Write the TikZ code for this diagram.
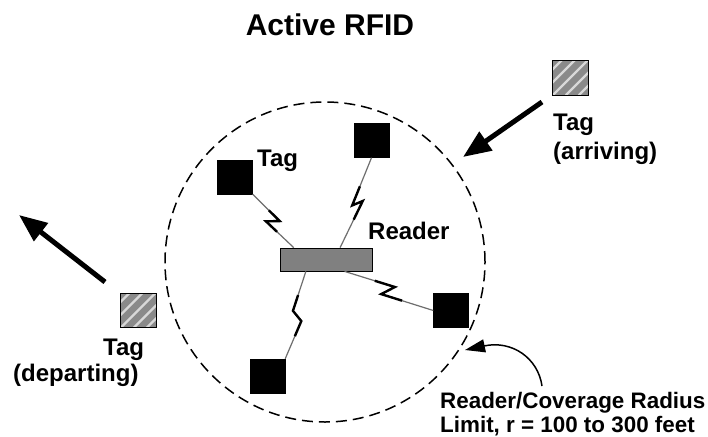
\documentclass[tikz,border=0pt]{standalone}
\usepackage{fontspec}
\setmainfont{Liberation Sans}
\usetikzlibrary{calc,arrows.meta}
\definecolor{readergray}{HTML}{808080}
\definecolor{wiregray}{HTML}{6E6E6E}
\definecolor{hatchgray}{HTML}{8A8A8A}
\definecolor{stripegray}{HTML}{D8D8D8}
\newcommand\rfidbolt[8]{%
  \coordinate (bA) at (#1);
  \coordinate (bB) at (#2);
  \coordinate (bP) at ($(bA)!#3!(bB)!#5!#4:(bB)$);
  \coordinate (bQ) at ($(bA)!#6!(bB)!#8!#7:(bB)$);
  \draw[wire] (bA) -- (bP) -- (bQ) -- (bB);
  \draw[jag] ($(bA)!0.6!(bP)$) -- (bP) -- (bQ) -- ($(bQ)!0.4!(bB)$);
}
\newcommand\rfidhatch[1]{%
  \begin{scope}
    \clip (#1.south west) rectangle (#1.north east);
    \foreach \k in {-39,-26,-13,0,13,26,39} {
      \draw[stripegray,line width=2.4pt] ($(#1.south west)+(\k,0)$) -- ++(45,-45);
    }
  \end{scope}
  \draw[black,line width=0.8pt] (#1.south west) rectangle (#1.north east);
}
\begin{document}
\begin{tikzpicture}[x=1pt,y=-1pt,
  tagbox/.style={draw=black,fill=black,minimum width=35pt,minimum height=34pt,inner sep=0pt},
  readerbox/.style={draw=black,fill=readergray,minimum width=92pt,minimum height=23pt,inner sep=0pt,line width=0.8pt},
  hatchbox/.style={fill=hatchgray,minimum width=35pt,minimum height=34pt,inner sep=0pt},
  zonestyle/.style={draw=black,circle,minimum size=320pt,inner sep=0pt,dash pattern=on 11pt off 6pt,line width=1.5pt},
  wire/.style={draw=wiregray,line width=1.2pt},
  jag/.style={draw=black,line width=2.4pt,line join=miter,miter limit=4},
  lbl/.style={font=\bfseries\fontsize{24}{26}\selectfont,inner sep=0pt,anchor=base west},
  smalllbl/.style={font=\bfseries\fontsize{22.4}{24}\selectfont,inner sep=0pt,anchor=base west},
  titlestyle/.style={font=\bfseries\fontsize{30}{32}\selectfont,inner sep=0pt,anchor=base},
  bigarrow/.style={line width=5pt,-{Triangle[length=28pt,width=22pt]}},
  curvearrow/.style={line width=1.5pt,-{Triangle[length=20pt,width=13pt]}},
]
\useasboundingbox (0,0) rectangle (708,436);
\fill[white] (0,0) rectangle (708,436);

% coverage zone
\node[zonestyle] (zone) at (325,262) {};

% reader and tags
\node[readerbox] (reader) at (326,259.5) {};
\node[tagbox] (t1) at (235,177) {};
\node[tagbox] (t2) at (371.5,140.5) {};
\node[tagbox] (t3) at (451,310.5) {};
\node[tagbox] (t4) at (267.5,376) {};

% reader ports
\coordinate (r1) at ($(reader.north west)!0.152!(reader.north east)$);
\coordinate (r2) at ($(reader.north west)!0.652!(reader.north east)$);
\coordinate (r3) at ($(reader.south west)!0.283!(reader.south east)$);
\coordinate (r4) at ($(reader.south west)!0.7!(reader.south east)$);

% radio links
\rfidbolt{t1.south east}{r1}{0.56}{90}{5pt}{0.44}{-90}{6pt}
\rfidbolt{t2.south}{r2}{0.54}{-90}{2.5pt}{0.46}{90}{6pt}
\rfidbolt{r4}{t3.west}{0.54}{90}{6pt}{0.44}{-90}{6pt}
\rfidbolt{r3}{t4.north east}{0.46}{-90}{3.5pt}{0.55}{90}{7pt}

% moving tags
\node[hatchbox] (h1) at (570.5,78) {};
\rfidhatch{h1}
\node[hatchbox] (h2) at (138.5,310.5) {};
\rfidhatch{h2}

% motion arrows
\coordinate (arrA) at (542,102);
\coordinate (arrAtip) at (463,157);
\draw[bigarrow] (arrA) -- (arrAtip);
\coordinate (arrD) at (105,282);
\coordinate (arrDtip) at (19,215);
\draw[bigarrow] (arrD) -- (arrDtip);

% labels
\node[titlestyle] (title) at (330,36) {Active RFID};
\node[lbl] (t1lbl) at (257,166) {Tag};
\node[lbl] (rdlbl) at (368,239) {Reader};
\node[lbl] (h1lbl) at (553,130) {Tag};
\node[lbl] (h1lblb) at (553,159) {(arriving)};
\node[lbl] (h2lbl) at (103,355) {Tag};
\node[lbl] (h2lblb) at (13,381) {(departing)};
\node[smalllbl] (cov) at (440,408) {Reader/Coverage Radius};
\node[smalllbl] (lim) at (440,432) {Limit, r = 100 to 300 feet};

% radius pointer
\coordinate (ctail) at (542,386);
\coordinate (ctip) at (465,350);
\draw[curvearrow] (ctail) .. controls (538,358) and (512,340) .. (ctip);
\end{tikzpicture}
\end{document}
